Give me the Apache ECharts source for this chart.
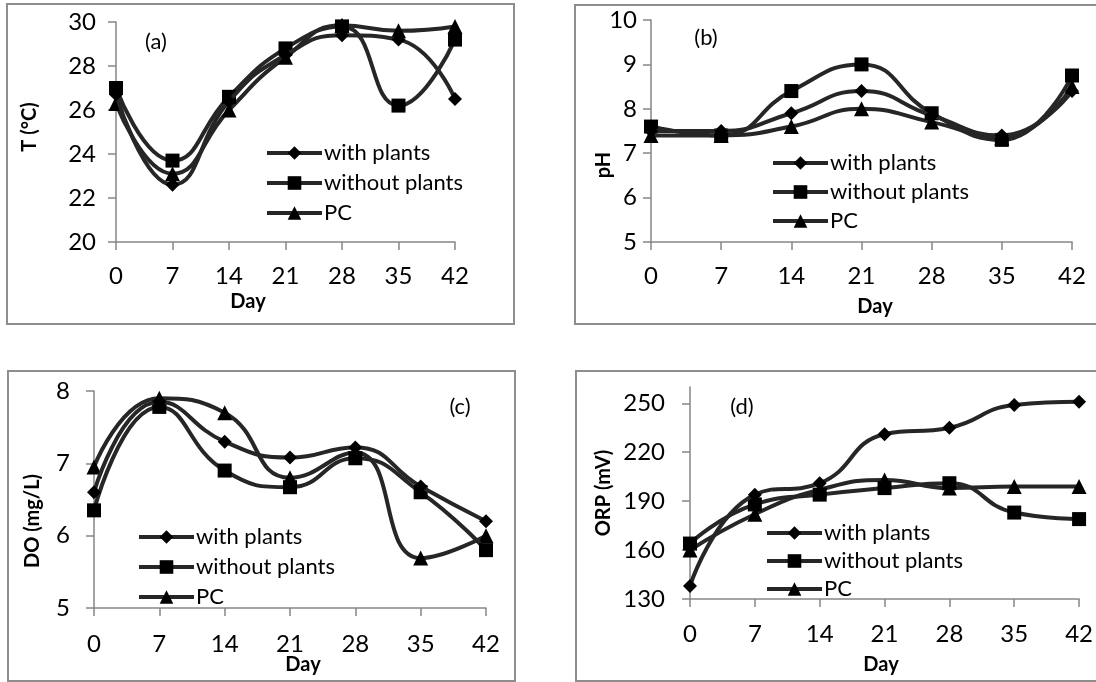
<!DOCTYPE html>
<html>
<head>
<meta charset="utf-8">
<script src="https://cdn.jsdelivr.net/npm/echarts@6/dist/echarts.min.js"></script>
<style>
html,body{margin:0;padding:0;background:#fff;}
#c{width:1096px;height:682px;}
</style>
</head>
<body>
<div id="c"></div>
<script>
// ---- data ----
const days = [0, 7, 14, 21, 28, 35, 42];
const seriesNames = ['with plants', 'without plants', 'PC'];
// (a) temperature
const tWith    = [26.7, 22.6, 26.4, 28.5, 29.4, 29.2, 26.5];
const tWithout = [27.0, 23.7, 26.6, 28.8, 29.8, 26.2, 29.2];
const tPC      = [26.3, 23.1, 26.0, 28.4, 29.85, 29.6, 29.8];
// (b) pH
const phWith    = [7.5, 7.5, 7.9, 8.4, 7.85, 7.4, 8.4];
const phWithout = [7.6, 7.4, 8.4, 9.0, 7.9, 7.3, 8.75];
const phPC      = [7.4, 7.4, 7.6, 8.0, 7.7, 7.35, 8.5];
// (c) DO
const doWith    = [6.6, 7.85, 7.3, 7.08, 7.22, 6.68, 6.2];
const doWithout = [6.35, 7.78, 6.9, 6.67, 7.07, 6.6, 5.8];
const doPC      = [6.95, 7.9, 7.7, 6.8, 7.15, 5.69, 6.0];
// (d) ORP
const orpWith    = [138, 194, 201, 231, 235, 249, 251];
const orpWithout = [164, 188, 194, 198, 201, 183, 179];
const orpPC      = [160, 182, 197, 203, 198, 199, 199];
// tick labels
const dayTicks = [0, 7, 14, 21, 28, 35, 42];
const orpTicks = [130, 160, 190, 220, 250];

// ---- styling ----
const FONT = 'Lato, "Open Sans", sans-serif';
const LINE_COLOR = '#262626';
const AXIS_COLOR = '#868686';
const symbols = [
  { symbol: 'diamond', symbolSize: 14 },
  { symbol: 'rect', symbolSize: 14 },
  { symbol: 'triangle', symbolSize: 15 }
];

const grids = [
  { left: 116, top: 22, width: 339, height: 220 },
  { left: 651, top: 20, width: 421, height: 222 },
  { left: 94, top: 391, width: 392, height: 217 },
  { left: 690, top: 387, width: 390, height: 212 }
];

const yDefs = [
  { min: 20, max: 30, interval: 2, margin: 20 },
  { min: 5, max: 10, interval: 1, margin: 14 },
  { min: 5, max: 8, interval: 1, margin: 24 },
  { min: 130, max: 260, custom: orpTicks, margin: 25 }
];
const xMargins = [22, 22, 24, 23];

const panelData = [
  [tWith, tWithout, tPC],
  [phWith, phWithout, phPC],
  [doWith, doWithout, doPC],
  [orpWith, orpWithout, orpPC]
];

const xAxes = grids.map((g, i) => ({
  type: 'value', gridIndex: i, min: 0, max: 42, interval: 7,
  axisLine: { show: true, lineStyle: { color: AXIS_COLOR, width: 1.5 } },
  axisTick: { show: true, length: 8, inside: false, lineStyle: { color: AXIS_COLOR, width: 1.5 } },
  axisLabel: { fontFamily: FONT, fontSize: 24, color: '#000', margin: xMargins[i] },
  splitLine: { show: false }
}));

const yAxes = yDefs.map((d, i) => {
  const ax = {
    type: 'value', gridIndex: i, min: d.min, max: d.max,
    axisLine: { show: true, lineStyle: { color: AXIS_COLOR, width: 1.5 } },
    axisTick: { show: true, length: 8, inside: false, lineStyle: { color: AXIS_COLOR, width: 1.5 } },
    axisLabel: { fontFamily: FONT, fontSize: 24, color: '#000', margin: d.margin },
    splitLine: { show: false }
  };
  if (d.custom) {
    ax.axisLabel.customValues = d.custom;
    ax.axisTick.customValues = d.custom;
  } else {
    ax.interval = d.interval;
  }
  return ax;
});

const series = [];
panelData.forEach((sets, p) => {
  sets.forEach((vals, k) => {
    series.push({
      type: 'line', name: seriesNames[k],
      xAxisIndex: p, yAxisIndex: p,
      data: days.map((d, j) => [d, vals[j]]),
      smooth: 0.5,
      symbol: symbols[k].symbol, symbolSize: symbols[k].symbolSize,
      showAllSymbol: true,
      lineStyle: { color: LINE_COLOR, width: 4 },
      itemStyle: { color: '#000', borderWidth: 0 },
      z: 3 - k
    });
  });
});

const legendPos = [
  { left: 265, top: 142, itemGap: 8 },
  { left: 771, top: 152, itemGap: 7 },
  { left: 137, top: 526, itemGap: 8 },
  { left: 765, top: 522, itemGap: 6 }
];
const legends = legendPos.map(lp => ({
  data: seriesNames, orient: 'vertical', left: lp.left, top: lp.top,
  itemGap: lp.itemGap, itemWidth: 55, itemHeight: 17, padding: 0,
  selectedMode: false,
  lineStyle: { width: 4, color: LINE_COLOR },
  itemStyle: { color: '#000', borderWidth: 0 },
  textStyle: { fontFamily: FONT, fontSize: 22, color: '#000', padding: [0, 0, 0, -3] }
}));

function txt(text, x, y, opts) {
  return Object.assign({
    type: 'text', x: x, y: y,
    style: { text: text, fontFamily: FONT, fontSize: 20, fontWeight: 'bold', fill: '#000', align: 'center', verticalAlign: 'middle' }
  }, opts || {});
}
function box(x, y, w, h) {
  return { type: 'rect', shape: { x: x, y: y, width: w, height: h }, style: { fill: 'none', stroke: '#8e8e8e', lineWidth: 2 }, z: -10 };
}
function plain(text, x, y) {
  const t = txt(text, x, y);
  t.style.fontWeight = 'normal';
  t.style.fontSize = 22;
  return t;
}

const graphics = [
  box(7, 4, 507, 320),
  box(575, 5, 530, 319),
  box(8, 371, 507, 310),
  box(576, 371, 530, 310),
  txt('Day', 248, 302), txt('Day', 875, 307), txt('Day', 303, 665), txt('Day', 881, 665),
  txt('T (°C)', 30, 127, { rotation: Math.PI / 2 }),
  txt('pH', 604, 165, { rotation: Math.PI / 2 }),
  txt('DO (mg/L)', 33, 521, { rotation: Math.PI / 2 }),
  txt('ORP (mV)', 604, 493, { rotation: Math.PI / 2 }),
  plain('(a)', 156, 42), plain('(b)', 706, 38), plain('(c)', 460, 407), plain('(d)', 742, 407)
];

const chart = echarts.init(document.getElementById('c'));
chart.setOption({
  animation: false,
  backgroundColor: '#fff',
  grid: grids,
  xAxis: xAxes,
  yAxis: yAxes,
  legend: legends,
  series: series,
  graphic: graphics
});
</script>
</body>
</html>
